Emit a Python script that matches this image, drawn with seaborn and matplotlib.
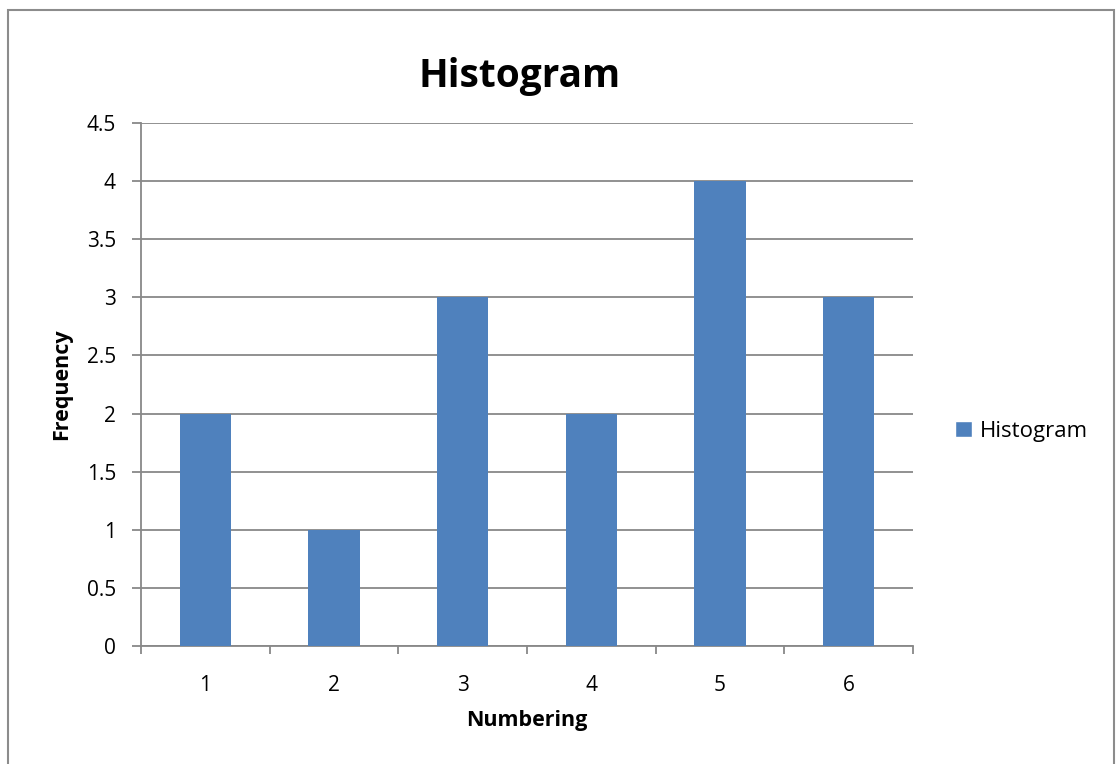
import matplotlib
matplotlib.use("Agg")
import matplotlib.pyplot as plt
import seaborn as sns
import pandas as pd
from matplotlib.patches import Rectangle, Patch

categories = ["1", "2", "3", "4", "5", "6"]
frequency = [2, 1, 3, 2, 4, 3]
y_ticks = [0, 0.5, 1, 1.5, 2, 2.5, 3, 3.5, 4, 4.5]

df = pd.DataFrame({"Numbering": categories, "Frequency": frequency})

sns.set_style("white")
plt.rcParams["font.family"] = ["Open Sans", "DejaVu Sans"]
plt.rcParams["text.color"] = "black"
plt.rcParams["axes.labelcolor"] = "black"

BAR = "#4F81BD"
GRID = "#888888"

fig = plt.figure(figsize=(11.16, 7.64), dpi=100)
ax = fig.add_axes([141 / 1116, 1 - 646 / 764, (913 - 141) / 1116, (646 - 123) / 764])

sns.barplot(data=df, x="Numbering", y="Frequency", color=BAR, width=0.4,
            saturation=1, linewidth=0, ax=ax, zorder=3)

ax.set_ylim(0, 4.5)
ax.set_xlim(-0.5, 5.5)
ax.set_yticks(y_ticks)
ax.set_yticklabels([f"{v:g}" for v in y_ticks])
ax.yaxis.grid(True, color=GRID, linewidth=1.3, zorder=0)
ax.set_axisbelow(True)

for side in ["top", "right"]:
    ax.spines[side].set_visible(False)
for side in ["left", "bottom"]:
    ax.spines[side].set_color(GRID)
    ax.spines[side].set_linewidth(1.3)

# x ticks sit at the category boundaries, labels at centres
ax.set_xticks([i - 0.5 for i in range(len(categories) + 1)], minor=False)
ax.set_xticklabels([])
ax.set_xticks(range(len(categories)), minor=True)
ax.set_xticklabels(categories, minor=True)
ax.tick_params(axis="x", which="major", direction="out", length=6, width=1.3,
               color=GRID, bottom=True)
ax.tick_params(axis="x", which="minor", length=0, labelsize=15, pad=21,
               labelcolor="black")
ax.tick_params(axis="y", direction="out", length=6.5, width=1.3, color=GRID,
               left=True, labelsize=15, pad=11.5, labelcolor="black")

ax.set_xlabel("Numbering", fontsize=15.5, fontweight="bold")
ax.set_ylabel("Frequency", fontsize=15.5, fontweight="bold")
ax.xaxis.set_label_coords(0.5, -0.1415)
ax.yaxis.set_label_coords(-0.1023, 0.5)
for lbl in (ax.xaxis.label, ax.yaxis.label):
    lbl.set_verticalalignment("center")

fig.text(520 / 1116, 1 - 76 / 764, "Histogram", fontsize=28, fontweight="bold",
         ha="center", va="center")

ax.legend(handles=[Patch(facecolor=BAR, label="Histogram")],
          loc="center left", bbox_to_anchor=(955 / 1116, 1 - 431 / 764),
          bbox_transform=fig.transFigure, frameon=False, fontsize=16,
          handlelength=0.75, handleheight=0.75, handletextpad=0.35, borderpad=0,
          borderaxespad=0)

fig.patches.append(Rectangle((8 / 1116, -0.05), (1114 - 8) / 1116, 1.05 - 10 / 764,
                             transform=fig.transFigure, fill=False,
                             edgecolor="#8c8c8c", linewidth=1.5))

fig.savefig("out.png", dpi=100, facecolor="white")
